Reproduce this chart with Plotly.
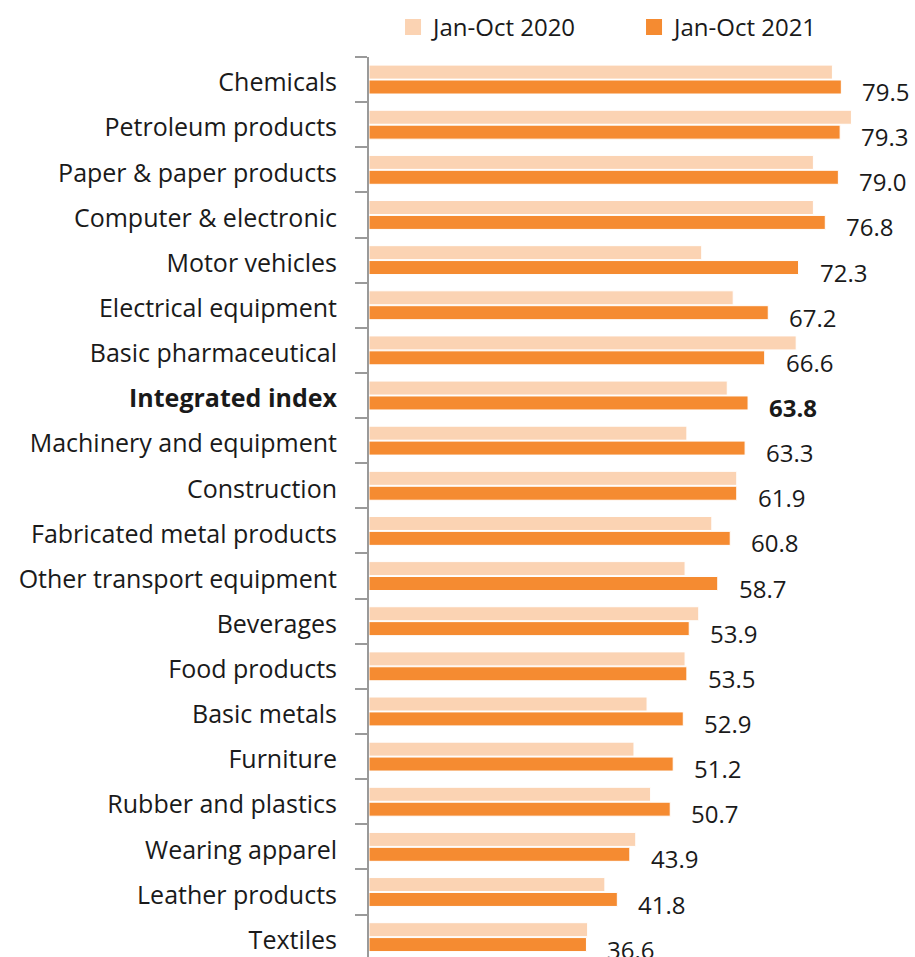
import plotly.graph_objects as go

categories = [
    "Chemicals", "Petroleum products", "Paper & paper products",
    "Computer & electronic", "Motor vehicles", "Electrical equipment",
    "Basic pharmaceutical", "Integrated index", "Machinery and equipment",
    "Construction", "Fabricated metal products", "Other transport equipment",
    "Beverages", "Food products", "Basic metals", "Furniture",
    "Rubber and plastics", "Wearing apparel", "Leather products", "Textiles",
]
jan_oct_2020 = [78.0, 81.2, 74.8, 74.8, 56.0, 61.3, 71.9, 60.3, 53.5, 61.9,
                57.7, 53.2, 55.5, 53.2, 46.8, 44.6, 47.4, 44.9, 39.7, 36.8]
jan_oct_2021 = [79.5, 79.3, 79.0, 76.8, 72.3, 67.2, 66.6, 63.8, 63.3, 61.9,
                60.8, 58.7, 53.9, 53.5, 52.9, 51.2, 50.7, 43.9, 41.8, 36.6]
series_names = ["Jan-Oct 2020", "Jan-Oct 2021"]
highlight = "Integrated index"

FONT = "Open Sans"
TXT = "#1a1a1a"
LIGHT = "#FBD3B3"
DARK = "#F58B31"

tick_text = [f"<b>{c}</b>" if c == highlight else c for c in categories]

fig = go.Figure()
for name, vals, col in zip(series_names, [jan_oct_2020, jan_oct_2021], [LIGHT, DARK]):
    fig.add_trace(go.Bar(
        y=categories, x=vals, orientation="h", name=name, showlegend=False,
        marker=dict(color=col, line=dict(color="white", width=1)),
    ))
# square legend keys
for name, col in zip(series_names, [LIGHT, DARK]):
    fig.add_trace(go.Scatter(
        x=[None], y=[None], mode="markers", name=name,
        marker=dict(symbol="square", size=16, color=col),
    ))

# value labels beside the 2021 bars
for c, v in zip(categories, jan_oct_2021):
    txt = f"{v:.1f}"
    if c == highlight:
        txt = f"<b>{txt}</b>"
    fig.add_annotation(
        x=v, y=c, text=txt, showarrow=False, xanchor="left", yanchor="middle",
        xshift=19, yshift=-12, font=dict(family=FONT, size=24, color=TXT),
    )

fig.update_layout(
    width=915, height=957,
    margin=dict(l=369, r=0, t=57, b=0),
    paper_bgcolor="white", plot_bgcolor="white",
    barmode="group", bargap=0.34, bargroupgap=0.06,
    font=dict(family=FONT, size=24, color=TXT),
    showlegend=True,
    legend=dict(
        orientation="h", x=0.044, y=1.033, xanchor="left", yanchor="middle",
        font=dict(family=FONT, size=24, color=TXT),
        itemwidth=30, entrywidth=196, tracegroupgap=0,
    ),
    xaxis=dict(range=[0, 91.9], visible=False, fixedrange=True),
    yaxis=dict(
        type="category", categoryorder="array", categoryarray=categories,
        tickmode="array", tickvals=categories, ticktext=tick_text,
        range=[19.44, -0.5],
        showline=True, linecolor="#9a9a9a", linewidth=2,
        ticks="outside", tickson="boundaries", ticklen=12, tickwidth=2,
        tickcolor="#9a9a9a", showgrid=False, ticklabelstandoff=25,
        ticklabelshift=-3,
        tickfont=dict(family=FONT, size=25, color=TXT),
    ),
)

fig.write_html("out.html")
